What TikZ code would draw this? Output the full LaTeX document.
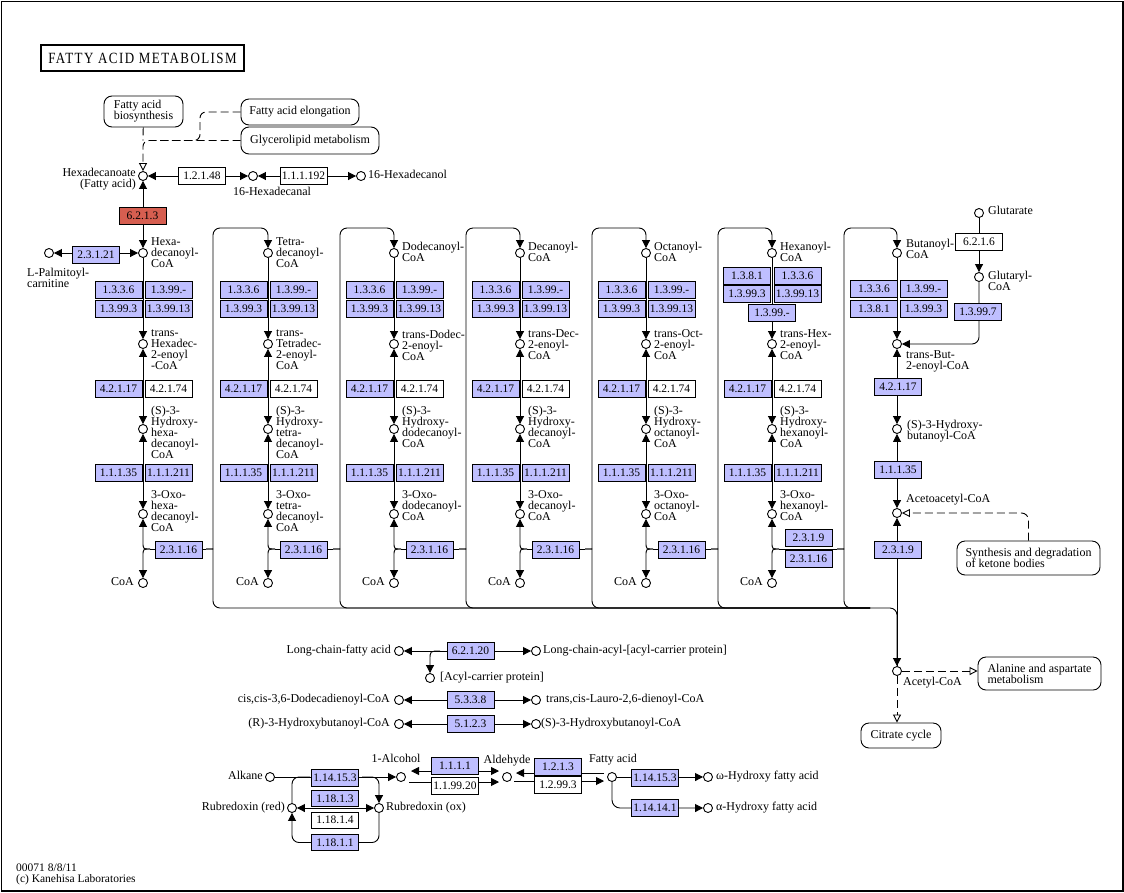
\documentclass[tikz,border=0pt]{standalone}
\usepackage{fontspec}
\usepackage{graphicx}
\setmainfont{Liberation Serif}
\newfontfamily\titlefont[LetterSpace=11]{Liberation Serif}
\usetikzlibrary{arrows.meta}
\pgfdeclarelayer{bg}
\pgfsetlayers{bg,main}
\definecolor{enz}{RGB}{191,191,255}
\definecolor{hit}{RGB}{214,94,80}
\lineskiplimit=-10pt
\tikzset{
  cpd/.style={circle,draw,fill=white,minimum size=9pt,inner sep=0pt,line width=0.9pt},
  ec/.style={draw,fill=enz,minimum width=47pt,minimum height=17pt,inner sep=0pt,line width=0.9pt,font=\fontsize{11.5}{12}\selectfont},
  ecw/.style={ec,fill=white},
  ecr/.style={ec,fill=hit},
  lbl/.style={inner sep=0pt,align=left,font=\fontsize{12}{11}\selectfont},
  lblr/.style={lbl,align=right},
  mapbox/.style={draw,rounded corners=8pt,line width=0.9pt,inner sep=0pt,align=left,font=\fontsize{12}{11}\selectfont},
  conn/.style={line width=0.9pt},
  arr/.style={conn,-{Triangle[length=8pt,width=8pt]}},
  darr/.style={conn,{Triangle[length=8pt,width=8pt]}-{Triangle[length=8pt,width=8pt]}},
  dsh/.style={conn,dash pattern=on 8pt off 4pt},
  dsha/.style={dsh,-{Triangle[open,length=8pt,width=8pt]}},
}
% one beta-oxidation column: #1 idx, #2 X, #3 acyl label, #4 acyl label top, #5 enoyl, #6 hydroxy, #7 oxo
\newcommand\fadcol[7]{%
  \node[cpd] (a#1) at (#2,253) {};
  \node[lbl,anchor=north west] (a#1l) at (#2+8,#4) {#3};
  \node[cpd] (e#1) at (#2,344) {};
  \node[lbl,anchor=north west] (e#1l) at (#2+8,329.5) {#5};
  \node[cpd] (h#1) at (#2,429) {};
  \node[lbl,anchor=north west] (h#1l) at (#2+8,405.5) {#6};
  \node[cpd] (o#1) at (#2,514) {};
  \node[lbl,anchor=north west] (o#1l) at (#2+8,490.5) {#7};
  \node[cpd] (c#1) at (#2,583) {};
  \node[lbl,anchor=mid east] (c#1l) at (#2-9,583) {CoA};
  \node[ec] (hy#1) at (#2-24.5,388.5) {4.2.1.17};
  \node[ecw] (hz#1) at (#2+25.5,388.5) {4.2.1.74};
  \node[ec] (hd#1) at (#2-24.5,473) {1.1.1.35};
  \node[ec] (he#1) at (#2+25.5,473) {1.1.1.211};
  \coordinate (jl#1) at (#2+7,549);
  \begin{pgfonlayer}{bg}
  \draw[arr] (a#1) -- (e#1);
  \draw[darr] (e#1) -- (h#1);
  \draw[darr] (h#1) -- (o#1);
  \draw[arr] (jl#1) .. controls (#2,549) .. (#2,542) -- (o#1);
  \draw[arr] (jl#1) .. controls (#2,549) .. (#2,556) -- (c#1);
  \end{pgfonlayer}
}
\newcommand\fadbox[2]{%
  \node[ec] (da#1) at (#2-24.5,290) {1.3.3.6};
  \node[ec] (db#1) at (#2+25.5,290) {1.3.99.-};
  \node[ec] (dc#1) at (#2-24.5,308.5) {1.3.99.3};
  \node[ec] (dd#1) at (#2+25.5,308.5) {1.3.99.13};
  \node[ec] (th#1) at (#2+35.5,550) {2.3.1.16};
}
% loop from thiolase of column #1 to next column: #2 L, #3 next node, #4 next X
\newcommand\fadloop[4]{%
  \coordinate (jr#1) at (#2-7,549);
  \begin{pgfonlayer}{bg}
  \draw[conn] (jl#1) -- (jr#1);
  \draw[arr,rounded corners=7pt] (jr#1) .. controls (#2,549) .. (#2,542) -- (#2,228) -- (#4,228) -- (#3);
  \draw[conn,rounded corners=7pt] (jr#1) .. controls (#2,549) .. (#2,556) -- (#2,608) -- (870,608);
  \end{pgfonlayer}
}
\begin{document}
\begin{tikzpicture}[x=1pt,y=-1pt]
\useasboundingbox (0,0) rectangle (1124,892);
\node[draw,line width=1.5pt,minimum width=1121.5pt,minimum height=889.5pt,anchor=north west,inner sep=0pt] (frame) at (0.75,0.75) {};
\node[draw,line width=2.5pt,minimum width=203pt,minimum height=26pt,inner sep=0pt] (title) at (142.5,58)
  {\scalebox{1}[1.2]{\titlefont\fontsize{13}{13}\selectfont FATTY ACID METABOLISM}};

% pathway maps
\node[mapbox,minimum width=79pt,minimum height=31pt] (fab) at (143.5,111.5) {Fatty acid\\biosynthesis};
\node[mapbox,minimum width=118pt,minimum height=26pt] (elong) at (300,112) {Fatty acid elongation};
\node[mapbox,minimum width=138pt,minimum height=27pt] (gly) at (310,140.5) {Glycerolipid metabolism};
\node[mapbox,minimum width=143pt,minimum height=34pt] (keto) at (1028.5,558) {Synthesis and degradation\\of ketone bodies};
\node[mapbox,minimum width=123pt,minimum height=33pt] (ala) at (1039.5,673.5) {Alanine and aspartate\\metabolism};
\node[mapbox,minimum width=80pt,minimum height=25pt] (cit) at (901,735.5) {Citrate cycle};

% top row
\node[cpd] (f0) at (143,176) {};
\node[lblr,anchor=north east] (f0l) at (136,167.5) {Hexadecanoate\\(Fatty acid)};
\node[ecw] (e12148) at (202,175.5) {1.2.1.48};
\node[cpd] (hal) at (253,176) {};
\node[lbl,anchor=mid] (hall) at (272,193) {16-Hexadecanal};
\node[ecw] (e111192) at (303.5,175.5) {1.1.1.192};
\node[cpd] (hol) at (361,176) {};
\node[lbl,anchor=mid west] (holl) at (368,176) {16-Hexadecanol};
\node[ecr] (e6213) at (142.5,215.5) {6.2.1.3};
\node[cpd] (lp) at (49,253) {};
\node[ec] (e23121) at (96,254.5) {2.3.1.21};
\node[lbl,anchor=north west] (lpl) at (27,267.5) {L-Palmitoyl-\\carnitine};

% columns
\fadcol{1}{143}{Hexa-\\decanoyl-\\CoA}{237.5}{trans-\\Hexadec-\\2-enoyl\\-CoA}{(S)-3-\\Hydroxy-\\hexa-\\decanoyl-\\CoA}{3-Oxo-\\hexa-\\decanoyl-\\CoA}
\fadcol{2}{268}{Tetra-\\decanoyl-\\CoA}{237.5}{trans-\\Tetradec-\\2-enoyl-\\CoA}{(S)-3-\\Hydroxy-\\tetra-\\decanoyl-\\CoA}{3-Oxo-\\tetra-\\decanoyl-\\CoA}
\fadcol{3}{394}{Dodecanoyl-\\CoA}{241.5}{trans-Dodec-\\2-enoyl-\\CoA}{(S)-3-\\Hydroxy-\\dodecanoyl-\\CoA}{3-Oxo-\\dodecanoyl-\\CoA}
\fadcol{4}{520}{Decanoyl-\\CoA}{241.5}{trans-Dec-\\2-enoyl-\\CoA}{(S)-3-\\Hydroxy-\\decanoyl-\\CoA}{3-Oxo-\\decanoyl-\\CoA}
\fadcol{5}{646}{Octanoyl-\\CoA}{241.5}{trans-Oct-\\2-enoyl-\\CoA}{(S)-3-\\Hydroxy-\\octanoyl-\\CoA}{3-Oxo-\\octanoyl-\\CoA}
\fadcol{6}{772}{Hexanoyl-\\CoA}{241.5}{trans-Hex-\\2-enoyl-\\CoA}{(S)-3-\\Hydroxy-\\hexanoyl-\\CoA}{3-Oxo-\\hexanoyl-\\CoA}
\fadbox{1}{143}
\fadbox{2}{268}
\fadbox{3}{394}
\fadbox{4}{520}
\fadbox{5}{646}
\node[ec,minimum height=16.5pt] (da6) at (747,276) {1.3.8.1};
\node[ec,minimum height=16.5pt] (db6) at (797.5,276) {1.3.3.6};
\node[ec,minimum height=16.5pt] (dc6) at (747,294) {1.3.99.3};
\node[ec,minimum height=16.5pt] (dd6) at (797.5,294) {1.3.99.13};
\node[ec,minimum height=16.5pt] (de6) at (772,313) {1.3.99.-};
\node[ec,minimum height=16.5pt] (tg6) at (808.5,538) {2.3.1.9};
\node[ec,minimum height=16.5pt] (th6) at (808.5,559) {2.3.1.16};

% butanoyl column
\node[cpd] (b7) at (897,253) {};
\node[lbl,anchor=north west] (b7l) at (906,238.5) {Butanoyl-\\CoA};
\node[ec] (r7a) at (874,289) {1.3.3.6};
\node[ec] (r7b) at (923.5,289) {1.3.99.-};
\node[ec] (r7c) at (874,308.5) {1.3.8.1};
\node[ec] (r7d) at (923.5,308.5) {1.3.99.3};
\node[cpd] (e7) at (897,344) {};
\node[lbl,anchor=north west] (e7l) at (906,350.5) {trans-But-\\2-enoyl-CoA};
\node[ec] (hy7) at (898,386.5) {4.2.1.17};
\node[cpd] (h7) at (897,429) {};
\node[lbl,anchor=north west] (h7l) at (907,419.5) {(S)-3-Hydroxy-\\butanoyl-CoA};
\node[ec] (hd7) at (898,469.5) {1.1.1.35};
\node[cpd] (oa7) at (897,513) {};
\node[lbl,anchor=mid west] (oa7l) at (906,500) {Acetoacetyl-CoA};
\node[ec] (th7) at (898,550) {2.3.1.9};
\node[cpd] (ac7) at (897,671) {};
\node[lbl,anchor=mid west] (ac7l) at (903,683.5) {Acetyl-CoA};
\node[cpd] (gt) at (979,213) {};
\node[lbl,anchor=mid west] (gtl) at (988,212) {Glutarate};
\node[ecw] (e6216) at (979,242) {6.2.1.6};
\node[cpd] (gc) at (979,277) {};
\node[lbl,anchor=north west] (gcl) at (988,270.5) {Glutaryl-\\CoA};
\node[ec] (e13997) at (978,312) {1.3.99.7};

% isolated reactions
\node[cpd] (lcfa) at (399,651) {};
\node[lbl,anchor=mid east] (lcfal) at (391,651) {Long-chain-fatty acid};
\node[ec] (e62120) at (470.5,651) {6.2.1.20};
\node[cpd] (lcacp) at (536,651) {};
\node[lbl,anchor=mid west] (lcacpl) at (543,651) {Long-chain-acyl-[acyl-carrier protein]};
\node[cpd] (acp) at (430,678) {};
\node[lbl,anchor=mid west] (acpl) at (440,678) {[Acyl-carrier protein]};
\coordinate (acpj) at (440,651);
\node[cpd] (ccd) at (399,700) {};
\node[lbl,anchor=mid east] (ccdl) at (390,700) {cis,cis-3,6-Dodecadienoyl-CoA};
\node[ec] (e5338) at (470.5,700) {5.3.3.8};
\node[cpd] (tcl) at (536,700) {};
\node[lbl,anchor=mid west] (tcll) at (546,700) {trans,cis-Lauro-2,6-dienoyl-CoA};
\node[cpd] (r3h) at (399,724) {};
\node[lbl,anchor=mid east] (r3hl) at (390,724) {(R)-3-Hydroxybutanoyl-CoA};
\node[ec] (e5123) at (470.5,724) {5.1.2.3};
\node[cpd] (s3h) at (536,724) {};
\node[lbl,anchor=mid west] (s3hl) at (541,724) {(S)-3-Hydroxybutanoyl-CoA};

% alkane group
\node[cpd] (alk) at (270,777) {};
\node[lbl,anchor=mid east] (alkl) at (263,777) {Alkane};
\node[ec] (e11415a) at (335,777.5) {1.14.15.3};
\node[cpd] (alc) at (401,777) {};
\node[lbl,anchor=mid] (alcl) at (396,760.5) {1-Alcohol};
\node[cpd] (rr) at (292,808) {};
\node[lbl,anchor=mid east] (rrl) at (285,808) {Rubredoxin (red)};
\node[cpd] (ro) at (379,808) {};
\node[lbl,anchor=mid west] (rol) at (386,808) {Rubredoxin (ox)};
\node[ec,minimum height=16pt] (e11813) at (335,798.5) {1.18.1.3};
\node[ecw,minimum height=16pt] (e11814) at (335,820) {1.18.1.4};
\node[ec,minimum height=16pt] (e11811) at (335,842.5) {1.18.1.1};
\node[ec] (e1111) at (455,766) {1.1.1.1};
\node[ecw] (e119920) at (455,785.5) {1.1.99.20};
\node[cpd] (ald) at (507,777) {};
\node[lbl,anchor=mid] (aldl) at (507,761) {Aldehyde};
\node[ec] (e1213) at (558,767) {1.2.1.3};
\node[ecw] (e12993) at (558,785) {1.2.99.3};
\node[cpd] (fa) at (612,777) {};
\node[lbl,anchor=mid] (fal) at (613,760) {Fatty acid};
\node[ec] (e11415b) at (655,778) {1.14.15.3};
\node[cpd] (om) at (708,777) {};
\node[lbl,anchor=mid west] (oml) at (716,777) {ω-Hydroxy fatty acid};
\node[ec] (e11414) at (655,808) {1.14.14.1};
\node[cpd] (al) at (708,808) {};
\node[lbl,anchor=mid west] (all) at (716,808) {α-Hydroxy fatty acid};
\coordinate (p1) at (411,771);
\coordinate (p2) at (499,771);
\coordinate (p3) at (409,782);
\coordinate (p4) at (499,782);
\coordinate (p5) at (516,773);
\coordinate (p6) at (604,773);
\coordinate (p7) at (514,781);
\coordinate (p8) at (604,781);
\coordinate (k1) at (310,777);
\coordinate (k2) at (362,777);
\coordinate (k3) at (335,842.5);

\node[lbl,anchor=north west,font=\fontsize{11.5}{11.5}\selectfont] (foot) at (16,863.5) {00071 8/8/11\\(c) Kanehisa Laboratories};

% loops between columns
\fadloop{1}{213}{a2}{268}
\fadloop{2}{340}{a3}{394}
\fadloop{3}{466}{a4}{520}
\fadloop{4}{592}{a5}{646}
\fadloop{5}{718}{a6}{772}
\fadloop{6}{844}{b7}{897}
\coordinate (bj) at (840,608);

\begin{pgfonlayer}{bg}
\draw[dsh] (fab) -- (143,140.5);
\draw[dsha,rounded corners=6pt] (gly.west) -- (143,140.5) -- (f0);
\draw[dsh,rounded corners=6pt] (elong.west) -- (200,112) -- (200,140.5) -- (160,140.5);
\draw[darr] (f0) -- (hal);
\draw[darr] (hal) -- (hol);
\draw[darr] (f0) -- (a1);
\draw[darr] (a1) -- (lp);
% butanoyl column
\draw[arr] (b7) -- (e7);
\draw[darr] (e7) -- (h7);
\draw[darr] (h7) -- (oa7);
\draw[arr] (ac7) -- (oa7);
\draw[arr] (gt) -- (gc);
\draw[arr,rounded corners=7pt] (gc) |- (e7);
\draw[dsha,rounded corners=7pt] (keto.north) |- (oa7);
\draw[arr,rounded corners=7pt] (bj) -- (897,608) -- (ac7);
\draw[dsha] (ac7) -- (ac7 -| ala.west);
\draw[dsha] (ac7) -- (ac7 |- cit.north);
% isolated reactions
\draw[darr] (lcfa) -- (lcacp);
\draw[arr] (acpj) .. controls (430,651) .. (430,660) -- (acp);
\draw[darr] (ccd) -- (tcl);
\draw[darr] (r3h) -- (s3h);
% alkane group
\draw[arr] (alk) -- (alc);
\draw[conn,rounded corners=7pt] (rr) |- (k1);
\draw[arr,rounded corners=7pt] (k2) -| (ro);
\draw[darr] (rr) -- (ro);
\draw[arr,rounded corners=7pt] (ro) |- (k3) -| (rr);
\draw[darr] (p1) -- (p2);
\draw[arr] (p3) -- (p4);
\draw[arr] (p6) -- (p5);
\draw[arr] (p7) -- (p8);
\draw[arr] (fa) -- (om);
\draw[arr,rounded corners=8pt] (fa) |- (al);
\end{pgfonlayer}
\end{tikzpicture}
\end{document}
